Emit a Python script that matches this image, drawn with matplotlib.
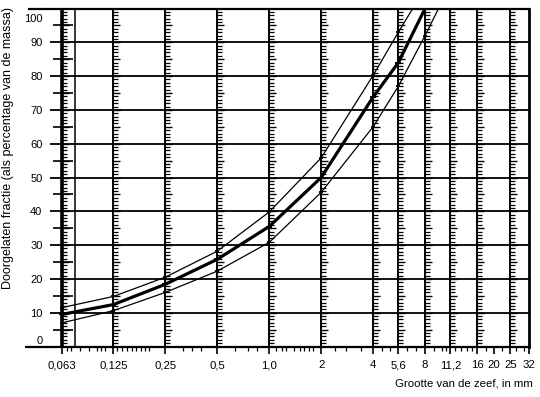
import matplotlib
matplotlib.use('Agg')
import matplotlib.pyplot as plt
from matplotlib.ticker import FixedLocator, FixedFormatter, NullFormatter
import matplotlib.transforms as mtransforms

plt.rcParams['font.family'] = ['Liberation Sans', 'DejaVu Sans']

# ---- data ----
sieves = [0.063, 0.125, 0.25, 0.5, 1.0, 2, 4, 5.6, 8, 11.2, 16, 20, 25, 32]
sieve_labels = ['0,063', '0,125', '0,25', '0,5', '1,0', '2', '4', '5,6', '8',
                '11,2', '16', '20', '25', '32']
ruler_lines = [0.063, 0.125, 0.25, 0.5, 1.0, 2, 4, 5.6, 8, 11.2, 16, 25]
extra_lines = [0.075]
minor_x = [0.067, 0.071, 0.08, 0.09, 0.1, 0.106, 0.112,
           0.132, 0.14, 0.15, 0.16, 0.17, 0.18, 0.19, 0.2,
           0.315, 0.355, 0.4, 0.63, 0.75, 0.85,
           1.1, 1.18, 1.25, 1.4, 1.5, 1.6, 1.7, 1.8,
           2.4, 2.8, 3.4, 4.5, 5.0, 6.3, 7.1, 9.0, 10.0, 10.6,
           12, 13, 14, 15, 18, 22.4, 27, 30]
y_major = list(range(0, 101, 10))
y_labels = [str(v) for v in y_major]
y_half = list(range(5, 100, 10))

upper_x = [0.063, 0.125, 0.25, 0.5, 1.0, 2, 4, 5.6, 8]
upper_y = [11.5, 14.8, 20.5, 28.2, 39.8, 55.8, 80.2, 93, 106]
middle_x = [0.063, 0.125, 0.25, 0.5, 1.0, 2, 4, 5.6, 8]
middle_y = [9.5, 12.4, 18.4, 25.8, 35.5, 50, 73.8, 84, 100]
lower_x = [0.063, 0.125, 0.25, 0.5, 1.0, 2, 4, 5.6, 8, 11.2]
lower_y = [7.0, 10.6, 16.0, 22.3, 30.8, 45.6, 65, 77, 92, 107]

# ---- figure ----
W, H = 540, 397
fig = plt.figure(figsize=(W / 100, H / 100), dpi=100)
ax = fig.add_axes([48 / W, 1 - 346.5 / H, 481 / W, 338 / H])
ax.set_xscale('log')
ax.set_xlim(0.0523, 32)
ax.set_ylim(0, 100)

# horizontal grid
ax.hlines(y_major[1:-1], 0.0535, 32, color='black', lw=1.3, zorder=2)
# half marks at 5s near the left
ax.hlines(y_half, 0.0556, 0.0731, color='black', lw=1.2, zorder=2)

# vertical lines with ruler marks
small = [v for v in range(1, 100) if v % 5 != 0]
big = list(range(5, 100, 5))
for xv in ruler_lines:
    lw = 2.6 if xv == 0.063 else 1.4
    ax.axvline(xv, color='black', lw=lw, zorder=2)
    ax.plot([xv] * len(small), small, ls='none', marker=1, ms=3.4,
            mew=0.9, color='black', zorder=2)
    ax.plot([xv] * len(big), big, ls='none', marker=1, ms=5.0,
            mew=1.0, color='black', zorder=2)
for xv in extra_lines:
    ax.axvline(xv, color='black', lw=1.1, zorder=2)

# curves
ax.plot(upper_x, upper_y, color='black', lw=0.9, zorder=3,
        marker='_', ms=3.5, mew=1.3)
ax.plot(middle_x, middle_y, color='black', lw=2.3, zorder=3,
        marker='_', ms=4.5, mew=1.5)
ax.plot(lower_x, lower_y, color='black', lw=0.9, zorder=3,
        marker='_', ms=3.5, mew=1.3)

# spines
ax.spines['left'].set_visible(False)
ax.spines['bottom'].set_linewidth(1.6)
ax.spines['top'].set_linewidth(1.6)
ax.spines['right'].set_linewidth(2.0)
ax.plot([-0.0478, 0], [0, 0], transform=ax.transAxes, clip_on=False,
        color='black', lw=1.6, solid_capstyle='butt')
ax.plot([-0.0416, 0], [1, 1], transform=ax.transAxes, clip_on=False,
        color='black', lw=1.6, solid_capstyle='butt')

# x ticks
ax.xaxis.set_major_locator(FixedLocator(sieves))
ax.xaxis.set_major_formatter(FixedFormatter(sieve_labels))
ax.xaxis.set_minor_locator(FixedLocator(minor_x))
ax.xaxis.set_minor_formatter(NullFormatter())
ax.tick_params(axis='x', which='major', direction='out', length=5,
               width=1.2, labelsize=8.2, pad=5)
ax.tick_params(axis='x', which='minor', direction='out', length=3.2,
               width=0.9)

# y ticks
ax.yaxis.set_major_locator(FixedLocator(y_major))
ax.yaxis.set_major_formatter(FixedFormatter(y_labels))
ax.tick_params(axis='y', which='major', length=0, labelsize=8.0, pad=4)
ax.yaxis.set_minor_locator(FixedLocator([]))

fig.canvas.draw()
yt = ax.yaxis.get_major_ticks()
yt[-1].label1.set_transform(yt[-1].label1.get_transform() +
                            mtransforms.ScaledTranslation(0, -0.09, fig.dpi_scale_trans))
yt[0].label1.set_transform(yt[0].label1.get_transform() +
                           mtransforms.ScaledTranslation(0, 0.07, fig.dpi_scale_trans))

fig.text(8.5 / W, 1 - 148 / H, 'Doorgelaten fractie (als percentage van de massa)',
         rotation=90, ha='center', va='center', fontsize=9.0)
fig.text(533 / W, 1 - 383 / H, 'Grootte van de zeef, in mm',
         ha='right', va='center', fontsize=8.2)

fig.savefig('out.png', dpi=100)
